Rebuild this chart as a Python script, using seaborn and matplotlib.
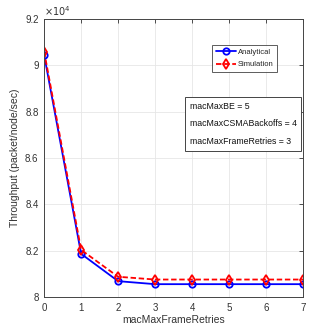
import numpy as np
import pandas as pd
import matplotlib
matplotlib.use("Agg")
import matplotlib.pyplot as plt
import seaborn as sns
from matplotlib.ticker import FuncFormatter

retries = [0, 1, 2, 3, 4, 5, 6, 7]
analytical = [90450, 81870, 80690, 80560, 80560, 80560, 80560, 80560]
simulation = [90600, 82040, 80880, 80760, 80760, 80760, 80760, 80760]
y_ticks = [80000, 82000, 84000, 86000, 88000, 90000, 92000]
param_lines = ["macMaxBE = 5", "macMaxCSMABackoffs = 4", "macMaxFrameRetries = 3"]

sns.set_style("whitegrid")
plt.rcParams['font.family'] = ['Liberation Sans', 'DejaVu Sans']

df = pd.DataFrame({
    "retries": retries * 2,
    "throughput": analytical + simulation,
    "series": ["Analytical"] * len(retries) + ["Simulation"] * len(retries),
})

fig = plt.figure(figsize=(3.13, 3.35), dpi=100)
ax = fig.add_axes([0.141, 0.113, 0.827, 0.830])

sns.lineplot(data=df, x="retries", y="throughput", hue="series", style="series",
             palette={"Analytical": "#0000ff", "Simulation": "#ff0000"},
             dashes={"Analytical": "", "Simulation": (3, 1.5)},
             markers={"Analytical": "o", "Simulation": "d"},
             markersize=4.6, markerfacecolor="none", markeredgewidth=1.3,
             linewidth=1.3, ax=ax, legend=True)
for line, c in zip(ax.get_lines()[:2], ["#0000ff", "#ff0000"]):
    line.set_markeredgecolor(c)
    line.set_markerfacecolor("none")

ax.set_xlim(0, 7)
ax.set_ylim(80000, 92000)
ax.set_xticks(retries)
ax.set_yticks(y_ticks)
ax.yaxis.set_major_formatter(FuncFormatter(lambda v, p: "%g" % (v / 1e4)))
ax.tick_params(axis="both", labelsize=7, colors="#333333", direction="in",
               length=3, width=0.6, pad=4, top=True, right=True)
ax.grid(True, color="#e6e6e6", linewidth=0.6)
for s in ax.spines.values():
    s.set_color("#444444")
    s.set_linewidth(0.7)
ax.set_xlabel("macMaxFrameRetries", fontsize=7.5, color="#333333", labelpad=2)
ax.set_ylabel("Throughput (packet/node/sec)", fontsize=7.5, color="#333333", labelpad=4)
ax.text(0.0, 1.005, r"$\times10^4$", transform=ax.transAxes, fontsize=7,
        color="#333333", ha="left", va="bottom")

handles, labels = ax.get_legend_handles_labels()
for h, c in zip(handles, ["#0000ff", "#ff0000"]):
    h.set_markerfacecolor("none")
    h.set_markeredgecolor(c)
leg = ax.legend(handles, labels, loc="upper right", bbox_to_anchor=(0.90, 0.906),
                fontsize=5.5, frameon=True, fancybox=False, handlelength=2.7,
                borderpad=0.45, labelspacing=0.65, handletextpad=0.2, borderaxespad=0)
leg.get_frame().set_edgecolor("#333333")
leg.get_frame().set_linewidth(0.7)

ax.text(0.562, 0.703, "\n".join(param_lines), transform=ax.transAxes, fontsize=6.3,
        color="#111111", ha="left", va="top", linespacing=2.25,
        bbox=dict(boxstyle="square,pad=0.5", facecolor="white", edgecolor="#444444", linewidth=0.7))

fig.savefig("out.png", dpi=100)
